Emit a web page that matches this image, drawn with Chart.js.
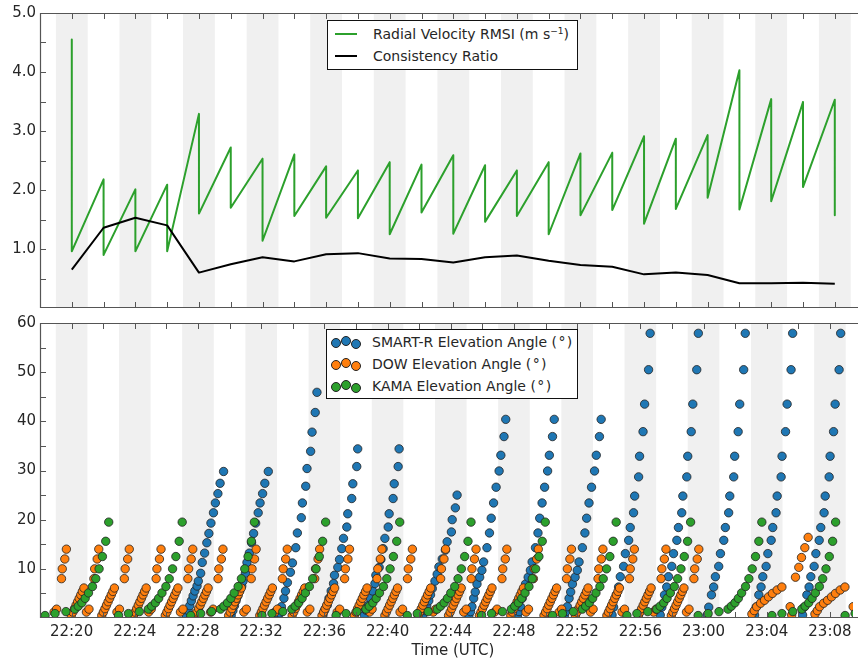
<!DOCTYPE html>
<html lang="en">
<head>
    <meta charset="UTF-8">
    <title>RMSI and Elevation Angles</title>
    <script src="https://cdn.jsdelivr.net/npm/chart.js"></script>
    <style>
        body { margin: 0; background: #fff; font-family: "DejaVu Sans", sans-serif; color: #262626; }
        #wrap { position: relative; width: 858px; height: 659px; overflow: hidden; }
        .panel { position: absolute; left: 0; width: 858px; }
        #topPanel { top: 0; height: 320px; }
        #bottomPanel { top: 311px; height: 348px; }
        .legend { position: absolute; box-sizing: border-box; background: #fff; border: 1.5px solid #111; font-size: 14px; }
        #rmsiLegend { left: 327px; top: 20px; width: 251px; height: 50px; }
        #elevLegend { left: 326px; top: 329px; width: 252px; height: 70px; }
        .row { position: absolute; left: 0; height: 18px; line-height: 18px; white-space: nowrap; }
        .swatch { position: absolute; left: 7px; top: 8px; width: 22px; height: 2px; }
        .dot { position: absolute; width: 8px; height: 8px; border-radius: 50%; border: 0.8px solid #222; }
        .txt { position: absolute; left: 45px; top: 0; }
        sup { font-size: 9px; vertical-align: 5px; line-height: 0; }
        #xTitle { position: absolute; left: 353px; top: 641px; width: 200px; text-align: center; font-size: 15px; line-height: 18px; }
    </style>
</head>
<body>
<div id="wrap">
    <div class="panel" id="topPanel"><canvas id="rmsiChart"></canvas></div>
    <div class="panel" id="bottomPanel"><canvas id="elevChart"></canvas></div>

    <div class="legend" id="rmsiLegend">
        <div class="row" style="top:4px"><span class="swatch" style="background:#2ca02c"></span><span class="txt">Radial Velocity RMSI (m s<sup>−1</sup>)</span></div>
        <div class="row" style="top:25.5px"><span class="swatch" style="background:#000"></span><span class="txt">Consistency Ratio</span></div>
    </div>

    <div class="legend" id="elevLegend">
        <div class="row" style="top:3px">
            <span class="dot" style="left:4px;top:5px;background:#1f77b4"></span>
            <span class="dot" style="left:14px;top:3px;background:#1f77b4"></span>
            <span class="dot" style="left:24px;top:6px;background:#1f77b4"></span>
            <span class="txt">SMART-R Elevation Angle (&#8202;°&#8202;)</span></div>
        <div class="row" style="top:24.5px">
            <span class="dot" style="left:4px;top:5px;background:#ff7f0e"></span>
            <span class="dot" style="left:14px;top:3px;background:#ff7f0e"></span>
            <span class="dot" style="left:24px;top:6px;background:#ff7f0e"></span>
            <span class="txt">DOW Elevation Angle (&#8202;°&#8202;)</span></div>
        <div class="row" style="top:46.5px">
            <span class="dot" style="left:4px;top:5px;background:#2ca02c"></span>
            <span class="dot" style="left:14px;top:3px;background:#2ca02c"></span>
            <span class="dot" style="left:24px;top:6px;background:#2ca02c"></span>
            <span class="txt">KAMA Elevation Angle (&#8202;°&#8202;)</span></div>
    </div>

    <div id="xTitle">Time (UTC)</div>
</div>

<script>
    // all times are minutes after 22:00 UTC
    const xMin = 18;
    const xMax = 69.46;

    const labelTimes = [20, 24, 28, 32, 36, 40, 44, 48, 52, 56, 60, 64, 68];
    const tickTimes = [20, 22, 24, 26, 28, 30, 32, 34, 36, 38, 40, 42, 44, 46, 48, 50, 52, 54, 56, 58, 60, 62, 64, 66, 68];
    const bandCenters = [20, 24, 28, 32, 36, 40, 44, 48, 52, 56, 60, 64, 68];
    const bandHalfWidth = 1;

    const rmsiTicks = [1, 2, 3, 4, 5];
    const rmsiMarks = [0.5, 1, 1.5, 2, 2.5, 3, 3.5, 4, 4.5];
    const elevTicks = [10, 20, 30, 40, 50, 60];
    const elevMarks = [5, 10, 15, 20, 25, 30, 35, 40, 45, 50, 55];

    // top panel: analysis times, RMSI before / after each analysis, consistency ratio
    const scanTimes = [20, 22, 24, 26, 28, 30, 32, 34, 36, 38, 40, 42, 44, 46, 48, 50, 52, 54, 56, 58, 60, 62, 64, 66, 68];
    const rmsiBefore = [4.55, 2.18, 2.01, 2.09, 3.29, 2.72, 2.53, 2.60, 2.40, 2.33, 2.47, 2.43, 2.59, 2.42, 2.33, 2.47, 2.62, 2.63, 2.91, 2.87, 2.93, 4.03, 3.54, 3.49, 3.53];
    const rmsiAfter = [0.96, 0.90, 0.96, 0.96, 1.60, 1.70, 1.14, 1.56, 1.53, 1.52, 1.25, 1.62, 1.26, 1.46, 1.56, 1.25, 1.57, 1.66, 1.43, 1.68, 1.87, 1.67, 1.81, 2.05, 1.57];
    const consistency = [0.65, 1.36, 1.53, 1.40, 0.60, 0.74, 0.86, 0.79, 0.91, 0.93, 0.84, 0.83, 0.77, 0.86, 0.89, 0.80, 0.73, 0.70, 0.57, 0.60, 0.56, 0.42, 0.42, 0.43, 0.41];

    // SMART-R: time of the top sweep of each volume and the scan strategy used
    const smartrPeaks = [29.62, 32.45, 35.53, 38.11, 40.73, 44.40, 47.48, 50.55, 53.52, 56.62, 59.67, 62.64, 65.64, 68.68];
    const smartrScans = ['A', 'A', 'B', 'C', 'C', 'D', 'E', 'E', 'E', 'F', 'F', 'F', 'F', 'F'];
    // elevation angles and minutes before the top sweep, per scan strategy
    const smartrAnglesA = [0.5, 1.5, 2.5, 3.5, 4.5, 5.5, 6.5, 7.5, 9.1, 11.3, 13.2, 15.3, 17.2, 19.3, 21.4, 23.4, 25.3, 27.4, 29.8];
    const smartrLeadA = [2.35, 2.24, 2.14, 2.04, 1.93, 1.82, 1.68, 1.60, 1.45, 1.35, 1.20, 1.06, 0.93, 0.80, 0.64, 0.52, 0.36, 0.22, 0];
    const smartrAnglesB = [0.4, 1.0, 2.3, 4.0, 5.5, 7.2, 9.3, 11.2, 14.3, 17.3, 20.4, 23.4, 26.8, 30.4, 33.9, 37.8, 41.8, 45.9];
    const smartrLeadB = [2.46, 2.36, 2.25, 2.09, 1.99, 1.87, 1.68, 1.55, 1.34, 1.24, 0.99, 0.92, 0.71, 0.63, 0.40, 0.31, 0.11, 0];
    const smartrAnglesC = [0.6, 1.6, 2.6, 4.0, 5.5, 7.0, 8.7, 10.3, 11.9, 14.1, 16.2, 18.5, 21.2, 24.3, 27.3, 30.8, 34.4];
    const smartrLeadC = [2.20, 2.09, 1.93, 1.82, 1.68, 1.53, 1.47, 1.26, 1.15, 1.01, 0.90, 0.69, 0.63, 0.38, 0.31, 0.06, 0];
    const smartrAnglesD = [0.5, 1.5, 2.5, 3.5, 4.7, 6.0, 7.5, 8.9, 10.4, 12.0, 13.8, 15.5, 17.5, 20.0, 22.4, 25.0];
    const smartrLeadD = [2.17, 2.04, 1.92, 1.79, 1.68, 1.57, 1.40, 1.26, 1.15, 0.94, 0.74, 0.63, 0.36, 0.31, 0.11, 0];
    const smartrAnglesE = [0.5, 1.3, 2.3, 4.0, 5.3, 6.9, 8.3, 9.7, 11.4, 14.3, 17.3, 20.3, 23.4, 26.6, 29.9, 33.1, 36.9, 40.4];
    const smartrLeadE = [2.33, 2.23, 2.14, 2.03, 1.93, 1.82, 1.65, 1.51, 1.40, 1.19, 1.03, 0.92, 0.77, 0.61, 0.42, 0.31, 0.11, 0];
    const smartrAnglesF = [0.6, 2.2, 4.7, 6.3, 8.4, 10.5, 13.1, 15.8, 18.4, 21.4, 24.8, 28.7, 32.9, 37.9, 43.5, 50.5, 57.9];
    const smartrLeadF = [2.41, 2.31, 2.14, 2.00, 1.89, 1.68, 1.57, 1.36, 1.26, 1.05, 0.98, 0.73, 0.67, 0.45, 0.35, 0.10, 0];

    // DOW: time of the 14 deg sweep of each 2-minute volume, sweep angles and offsets from it
    const dowRecordStart = 18.85;
    const dowColumnTops = [19.67, 21.72, 23.65, 25.66, 27.67, 29.58, 31.68, 33.65, 35.70, 37.59, 39.64, 41.57, 43.67, 45.60, 47.55, 49.54, 51.64, 53.63, 55.62, 57.62, 59.70];
    const dowAngles = [0.5, 1.2, 1.9, 2.6, 3.3, 4.0, 4.7, 5.4, 6.1, 1.2, 1.8, 8.0, 10.0, 12.0, 14.0];
    const dowLead = [-1.74, -1.64, -1.54, -1.44, -1.34, -1.24, -1.14, -1.04, -0.94, -0.78, -0.62, -0.31, -0.26, -0.10, 0];
    // DOW: the slower volumes after 23:02
    const dowLateStarts = [63.06, 67.05];
    const dowLateAngles = [0.8, 1.5, 2.3, 3.0, 3.6, 4.3, 5.0, 5.7, 6.3, 2.3, 0.6, 8.3, 10.3, 12.3, 14.3, 16.4];
    const dowLateLead = [0, 0.15, 0.30, 0.55, 0.80, 1.05, 1.30, 1.60, 1.90, 2.42, 2.52, 2.76, 2.97, 3.14, 3.35, 3.56];

    // KAMA (VCP 12): volume start times, sweep angles and minutes after volume start
    const kamaStarts = [18.32, 22.97, 27.54, 32.05, 36.74, 41.25, 45.95, 50.44, 55.15, 59.66, 64.33, 68.96];
    const kamaAngles = [0.5, 0.9, 1.3, 1.8, 2.4, 3.1, 4.0, 5.1, 6.4, 8.0, 10.0, 12.5, 15.6, 19.5];
    const kamaLead = [0, 0.63, 1.32, 1.89, 2.10, 2.33, 2.54, 2.75, 3.00, 3.21, 3.42, 3.63, 3.84, 4.03];

    const smartrTable = {
        A: [smartrAnglesA, smartrLeadA], B: [smartrAnglesB, smartrLeadB], C: [smartrAnglesC, smartrLeadC],
        D: [smartrAnglesD, smartrLeadD], E: [smartrAnglesE, smartrLeadE], F: [smartrAnglesF, smartrLeadF]
    };

    function smartrPoints() {
        let pts = [];
        smartrPeaks.forEach(function(peak, v) {
            let scan = smartrTable[smartrScans[v]];
            scan[0].forEach(function(a, i) { pts.push({ x: peak - scan[1][i], y: a }); });
        });
        return pts;
    }

    function dowPoints() {
        let pts = [];
        dowColumnTops.forEach(function(top) {
            dowAngles.forEach(function(a, i) {
                let t = top + dowLead[i];
                if (t >= dowRecordStart) pts.push({ x: t, y: a });
            });
        });
        dowLateStarts.forEach(function(start) {
            dowLateAngles.forEach(function(a, i) { pts.push({ x: start + dowLateLead[i], y: a }); });
        });
        return pts;
    }

    function kamaPoints() {
        let pts = [];
        kamaStarts.forEach(function(start) {
            kamaAngles.forEach(function(a, i) { pts.push({ x: start + kamaLead[i], y: a }); });
        });
        return pts;
    }

    function timeLabel(v) {
        let h = 22 + Math.floor(v / 60);
        let m = v % 60;
        return h + ':' + (m < 10 ? '0' : '') + m;
    }

    // shaded bands, axes frame and inward ticks, matplotlib style
    const framePlugin = {
        id: 'frame',
        beforeDatasetsDraw(chart) {
            const ctx = chart.ctx, a = chart.chartArea, x = chart.scales.x;
            ctx.save();
            ctx.fillStyle = '#f0f0f0';
            bandCenters.forEach(function(c) {
                let l = x.getPixelForValue(c - bandHalfWidth);
                let r = x.getPixelForValue(c + bandHalfWidth);
                ctx.fillRect(l, a.top, r - l, a.bottom - a.top);
            });
            ctx.restore();
        },
        afterDatasetsDraw(chart, args, opts) {
            const ctx = chart.ctx, a = chart.chartArea, x = chart.scales.x, y = chart.scales.y;
            ctx.save();
            ctx.strokeStyle = '#555';
            ctx.lineWidth = 1;
            ctx.beginPath();
            tickTimes.forEach(function(t) {
                let px = Math.round(x.getPixelForValue(t)) + 0.5;
                ctx.moveTo(px, a.top); ctx.lineTo(px, a.top + 6);
                ctx.moveTo(px, a.bottom); ctx.lineTo(px, a.bottom - 6);
            });
            opts.marks.forEach(function(v) {
                let py = Math.round(y.getPixelForValue(v)) + 0.5;
                ctx.moveTo(a.left, py); ctx.lineTo(a.left + 6, py);
            });
            ctx.stroke();
            ctx.lineWidth = 1.2;
            ctx.beginPath();
            ctx.moveTo(a.right + 20, a.top + 0.5);
            ctx.lineTo(a.left + 0.5, a.top + 0.5);
            ctx.lineTo(a.left + 0.5, a.bottom - 0.5);
            ctx.lineTo(a.right + 20, a.bottom - 0.5);
            ctx.stroke();
            ctx.restore();
        }
    };

    const axisFont = { family: 'DejaVu Sans', size: 15, lineHeight: 1 };

    new Chart(document.getElementById('rmsiChart'), {
        type: 'line',
        data: {
            datasets: [{
                label: 'Consistency Ratio',
                data: scanTimes.map((t, i) => ({ x: t, y: consistency[i] })),
                borderColor: '#000',
                borderWidth: 2,
                pointRadius: 0,
                borderJoinStyle: 'round',
                order: 1
            }, {
                label: 'Radial Velocity RMSI (m s⁻¹)',
                data: scanTimes.flatMap((t, i) => [{ x: t, y: rmsiBefore[i] }, { x: t, y: rmsiAfter[i] }]),
                borderColor: '#2ca02c',
                borderWidth: 2,
                pointRadius: 0,
                borderJoinStyle: 'round',
                order: 2
            }]
        },
        options: {
            responsive: true,
            maintainAspectRatio: false,
            animation: false,
            events: [],
            layout: { padding: { top: 13, right: 0, bottom: 12, left: 0 } },
            plugins: { legend: { display: false }, tooltip: { enabled: false }, frame: { marks: rmsiMarks } },
            scales: {
                x: { type: 'linear', min: xMin, max: xMax, display: false },
                y: {
                    min: 0, max: 5,
                    afterFit: s => { s.width = 40; },
                    afterBuildTicks: s => { s.ticks = rmsiTicks.map(v => ({ value: v })); },
                    ticks: { callback: v => v.toFixed(1), font: axisFont, color: '#262626', padding: 4 },
                    grid: { display: false, drawTicks: false },
                    border: { display: false }
                }
            }
        },
        plugins: [framePlugin]
    });

    const dotStyle = { pointRadius: 4.2, borderWidth: 0.8, borderColor: '#222', clip: 0 };

    new Chart(document.getElementById('elevChart'), {
        type: 'scatter',
        data: {
            datasets: [
                Object.assign({ label: 'SMART-R Elevation Angle (°)', data: smartrPoints(), backgroundColor: '#1f77b4', order: 3 }, dotStyle),
                Object.assign({ label: 'DOW Elevation Angle (°)', data: dowPoints(), backgroundColor: '#ff7f0e', order: 2 }, dotStyle),
                Object.assign({ label: 'KAMA Elevation Angle (°)', data: kamaPoints(), backgroundColor: '#2ca02c', order: 1 }, dotStyle)
            ]
        },
        options: {
            responsive: true,
            maintainAspectRatio: false,
            animation: false,
            events: [],
            layout: { padding: { top: 12, right: 0, bottom: 0, left: 0 } },
            plugins: { legend: { display: false }, tooltip: { enabled: false }, frame: { marks: elevMarks } },
            scales: {
                x: {
                    type: 'linear', min: xMin, max: xMax,
                    afterFit: s => { s.height = 41; },
                    afterBuildTicks: s => { s.ticks = labelTimes.map(v => ({ value: v })); },
                    ticks: { callback: timeLabel, font: { family: 'DejaVu Sans', size: 15 }, color: '#262626', padding: 5, maxRotation: 0, autoSkip: false },
                    grid: { display: false, drawTicks: false },
                    border: { display: false }
                },
                y: {
                    min: 0, max: 60,
                    afterFit: s => { s.width = 40; },
                    afterBuildTicks: s => { s.ticks = elevTicks.map(v => ({ value: v })); },
                    ticks: { callback: v => String(v), font: axisFont, color: '#262626', padding: 4 },
                    grid: { display: false, drawTicks: false },
                    border: { display: false }
                }
            }
        },
        plugins: [framePlugin]
    });
</script>
</body>
</html>
